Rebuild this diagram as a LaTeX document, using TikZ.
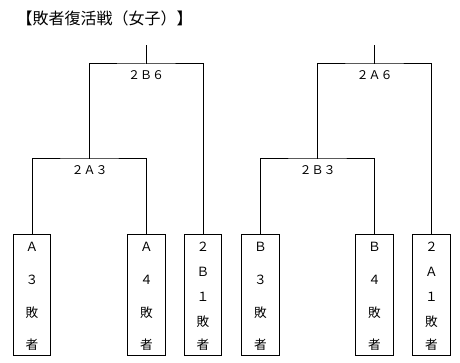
\documentclass[tikz,border=0pt]{standalone}
\usepackage{fontspec}
\setmainfont{Noto Sans CJK JP}
\begin{document}
\begin{tikzpicture}[x=0.75pt,y=-0.75pt,line width=0.75pt,
  entrybox/.style={draw,inner sep=0pt,minimum width=28pt,minimum height=90pt},
  ch/.style={inner sep=0pt,font=\fontsize{9.5pt}{10pt}\selectfont},
  lbl/.style={inner sep=0pt,font=\fontsize{9pt}{10pt}\selectfont},
  ttl/.style={inner sep=0pt,anchor=west,font=\fontsize{12pt}{13pt}\selectfont}]
\useasboundingbox (0,0) rectangle (460,363);
\node[ttl] (title) at (16,18) {【敗者復活戦（女子）】};
% boxes
\node[entrybox] (b1) at (32,295) {};
\node[entrybox] (b2) at (146.5,295) {};
\node[entrybox] (b3) at (203,295) {};
\node[entrybox] (b4) at (260.5,295) {};
\node[entrybox] (b5) at (374.5,295) {};
\node[entrybox] (b6) at (431.5,295) {};
% box texts (4 chars)
\foreach \b/\x/\p/\q in {1/32/Ａ/３,2/146.5/Ａ/４,4/260.5/Ｂ/３,5/374.5/Ｂ/４}{
  \node[ch] (t\b a) at (\x,247) {\p};
  \node[ch] (t\b b) at (\x,280) {\q};
  \node[ch] (t\b c) at (\x,313) {敗};
  \node[ch] (t\b d) at (\x,345) {者};
}
% box texts (5 chars)
\foreach \b/\x/\p in {3/203/Ｂ,6/431.5/Ａ}{
  \node[ch] (t\b a) at (\x,247) {２};
  \node[ch] (t\b b) at (\x,272) {\p};
  \node[ch] (t\b c) at (\x,297) {１};
  \node[ch] (t\b d) at (\x,322) {敗};
  \node[ch] (t\b e) at (\x,345) {者};
}
% joints
\coordinate (j1) at (89.5,159);
\coordinate (j2) at (317.5,159);
\coordinate (k1) at (146,64);
\coordinate (k2) at (374.5,64);
\coordinate (top1) at (146,45);
\coordinate (top2) at (374.5,45);
% connectors
\draw (b1.north) |- (j1) -| (b2.north);
\draw (b4.north) |- (j2) -| (b5.north);
\draw (j1) |- (k1) -| (b3.north);
\draw (j2) |- (k2) -| (b6.north);
\draw (k1) -- (top1);
\draw (k2) -- (top2);
% labels
\node[lbl] (l1) at (89.5,170) {２Ａ３};
\node[lbl] (l2) at (317.5,170) {２Ｂ３};
\node[lbl] (l3) at (146,75) {２Ｂ６};
\node[lbl] (l4) at (374.5,75) {２Ａ６};
\end{tikzpicture}
\end{document}
